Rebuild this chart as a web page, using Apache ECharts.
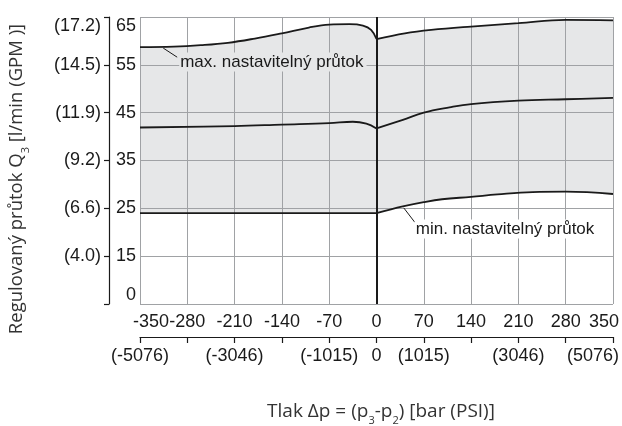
<!DOCTYPE html>
<html><head><meta charset="utf-8">
<script src="https://cdn.jsdelivr.net/npm/echarts@6/dist/echarts.min.js"></script>
<style>html,body{margin:0;padding:0;background:#fff}#c{width:622px;height:426px}</style>
</head><body><div id="c"></div>
<script>
// ---- tick labels ----
const flowTickLabels = ['0', '15', '25', '35', '45', '55', '65'];          // l/min
const gpmTickLabels  = ['', '(4.0)', '(6.6)', '(9.2)', '(11.9)', '(14.5)', '(17.2)'];
const psiTickLabels  = { '-350': '(-5076)', '-210': '(-3046)', '-70': '(-1015)', '0': '0',
                         '70': '(1015)', '210': '(3046)', '350': '(5076)' };

// ---- curves (x: bar, y: l/min) ----
const maxLeftX  = [-350, -300, -260, -220, -180, -140, -100, -70, -40, -20, -8, 0];
const maxLeftY  = [58.7, 58.8, 59.1, 59.6, 60.5, 61.6, 62.8, 63.4, 63.5, 63.2, 62.3, 60.4];
const maxRightX = [0, 42, 81, 140, 210, 280, 350];
const maxRightY = [60.4, 61.6, 62.3, 63.0, 63.7, 64.4, 64.3];

const midLeftX  = [-350, -210, -140, -70, -35, -15, 0];
const midLeftY  = [41.9, 42.2, 42.5, 42.8, 43.1, 42.7, 41.7];
const midRightX = [0, 39, 70, 108, 140, 210, 280, 350];
const midRightY = [41.7, 43.5, 45.0, 46.1, 46.8, 47.5, 47.8, 48.1];

const minLeftX  = [-350, 0];
const minLeftY  = [24.0, 24.0];
const minRightX = [0, 39, 70, 97, 140, 179, 231, 280, 350];
const minRightY = [24.0, 25.4, 26.3, 26.9, 27.4, 27.9, 28.4, 28.5, 28.0];

// annotation anchors (bar, l/min)
const maxNoteText = 'max. nastavitelný průtok';
const maxNoteAt = [-292, 55.6];
const maxLeader = [[-315.6, 58.5], [-295, 56.6]];
const minNoteText = 'min. nastavitelný průtok';
const minNoteAt = [56.6, 20.7];
const minLeader = [[40.3, 25.1], [56.6, 22.1]];

// broken axis: the "0" label sits one step below 15
const AXIS_BASE = 5;
const toAxis = v => v - AXIS_BASE;
const pairs = (xs, ys) => xs.map((x, i) => [x, toAxis(ys[i])]);

const FILL = '#e6e7e8';
const GRID = '#a0a2a5';
const INK = '#1a1a1a';
const tickFont = 'Liberation Sans, Arial, sans-serif';
const titleFont = 'Open Sans, Noto Sans, sans-serif';
const tickText = { fontSize: 18, fontFamily: tickFont, color: INK };

const chart = echarts.init(document.getElementById('c'), null, { renderer: 'canvas' });

function areaSeries(xs, ys, color, z) {
  return { type: 'line', data: pairs(xs, ys), smooth: 0.4, symbol: 'none',
    lineStyle: { width: 0, opacity: 0 }, areaStyle: { color: color, opacity: 1, origin: 'start' },
    z: z, silent: true, animation: false };
}
function lineSeries(xs, ys, extra) {
  return Object.assign({ type: 'line', data: pairs(xs, ys), smooth: 0.4, symbol: 'none',
    lineStyle: { color: INK, width: 1.8 }, z: 4, silent: true, animation: false }, extra || {});
}

const option = {
  animation: false,
  backgroundColor: '#fff',
  grid: { left: 140, right: 8, top: 17, bottom: 122, containLabel: false },
  xAxis: [
    { type: 'value', min: -350, max: 350, interval: 70, position: 'bottom', z: 3,
      axisLine: { show: false }, axisTick: { show: false },
      splitLine: { show: true, lineStyle: { color: GRID, width: 1 } },
      axisLabel: { color: INK, fontFamily: tickFont, fontSize: 18, margin: 9, interval: 0, hideOverlap: false,
        showMinLabel: true, showMaxLabel: true,
        formatter: v => v === -350 ? '{l|' + v + '}' : v === 350 ? '{r|' + v + '}' : String(v),
        rich: { l: Object.assign({ padding: [0, 0, 0, 22] }, tickText),
                r: Object.assign({ padding: [0, 18, 0, 0] }, tickText) } } },
    { type: 'value', min: -350, max: 350, interval: 70, position: 'bottom', offset: 33, z: 3,
      axisLine: { show: true, onZero: false, lineStyle: { color: INK, width: 1.2 } },
      axisTick: { show: true, inside: false, length: 6, lineStyle: { color: INK, width: 1.2 } },
      splitLine: { show: false },
      axisLabel: { color: INK, fontFamily: tickFont, fontSize: 18, margin: 10, interval: 0, hideOverlap: false,
        showMinLabel: true, showMaxLabel: true,
        formatter: v => v === 350 ? '{r|' + psiTickLabels['350'] + '}' : (psiTickLabels[String(v)] || ''),
        rich: { r: Object.assign({ padding: [0, 40, 0, 0] }, tickText) } } }
  ],
  yAxis: [
    { type: 'value', min: 0, max: 60, interval: 10, position: 'left', z: 3,
      axisLine: { show: false }, axisTick: { show: false },
      splitLine: { show: true, lineStyle: { color: GRID, width: 1 } },
      axisLabel: { color: INK, fontFamily: tickFont, fontSize: 18, margin: 4,
        showMinLabel: true, showMaxLabel: true,
        verticalAlignMinLabel: 'bottom', verticalAlignMaxLabel: 'top',
        formatter: v => flowTickLabels[Math.round(v / 10)] } },
    { type: 'value', min: 0, max: 60, interval: 10, position: 'left', offset: 31, z: 3,
      axisLine: { show: true, onZero: false, lineStyle: { color: INK, width: 1.2 } },
      axisTick: { show: true, inside: false, length: 5, lineStyle: { color: INK, width: 1.2 } },
      splitLine: { show: false },
      axisLabel: { color: INK, fontFamily: tickFont, fontSize: 18, margin: 8,
        showMinLabel: true, showMaxLabel: true,
        verticalAlignMinLabel: 'bottom', verticalAlignMaxLabel: 'top',
        formatter: v => gpmTickLabels[Math.round(v / 10)] } }
  ],
  series: [
    areaSeries(maxLeftX, maxLeftY, FILL, 1),
    areaSeries(maxRightX, maxRightY, FILL, 1),
    areaSeries(minLeftX, minLeftY, '#ffffff', 2),
    areaSeries(minRightX, minRightY, '#ffffff', 2),
    lineSeries(maxLeftX, maxLeftY, {
      markLine: { silent: true, symbol: ['none', 'none'], label: { show: false },
        lineStyle: { color: INK, width: 2, type: 'solid' }, data: [{ xAxis: 0 }], z: 5 } }),
    lineSeries(maxRightX, maxRightY),
    lineSeries(midLeftX, midLeftY),
    lineSeries(midRightX, midRightY),
    lineSeries(minLeftX, minLeftY),
    lineSeries(minRightX, minRightY)
  ]
};
chart.setOption(option);

const px = p => chart.convertToPixel({ gridIndex: 0 }, [p[0], toAxis(p[1])]);
const a1 = px(maxLeader[0]), a2 = px(maxLeader[1]);
const b1 = px(minLeader[0]), b2 = px(minLeader[1]);
const mt = px(maxNoteAt), nt = px(minNoteAt);

const subStyle = { fontSize: 11, fontFamily: titleFont, fill: '#333', verticalAlign: 'bottom', lineHeight: 10, padding: [0, 0, -5, 0] };
chart.setOption({
  graphic: [
    { type: 'line', z: 6, shape: { x1: a1[0], y1: a1[1], x2: a2[0], y2: a2[1] }, style: { stroke: INK, lineWidth: 1 } },
    { type: 'line', z: 6, shape: { x1: b1[0], y1: b1[1], x2: b2[0], y2: b2[1] }, style: { stroke: INK, lineWidth: 1 } },
    { type: 'text', z: 6, x: mt[0], y: mt[1],
      style: { text: maxNoteText, fill: INK, font: '17px ' + tickFont, align: 'left', verticalAlign: 'middle',
        backgroundColor: FILL, padding: [1, 3, 1, 1] } },
    { type: 'text', z: 6, x: nt[0], y: nt[1],
      style: { text: minNoteText, fill: INK, font: '17px ' + tickFont, align: 'left', verticalAlign: 'middle',
        backgroundColor: '#fff', padding: [1, 3, 1, 1] } },
    { type: 'text', z: 6, x: 381, y: 412,
      style: { text: 'Tlak Δp = (p{s|3}-p{s|2}) [bar (PSI)]', fill: '#333', fontFamily: titleFont, fontSize: 19,
        align: 'center', verticalAlign: 'middle', rich: { s: subStyle } } },
    { type: 'text', z: 6, x: 17, y: 179, rotation: Math.PI / 2,
      style: { text: 'Regulovaný průtok Q{s|3} [l/min (GPM )]', fill: '#333', fontFamily: titleFont, fontSize: 18.5,
        align: 'center', verticalAlign: 'middle', rich: { s: subStyle } } }
  ]
});
</script></body></html>
